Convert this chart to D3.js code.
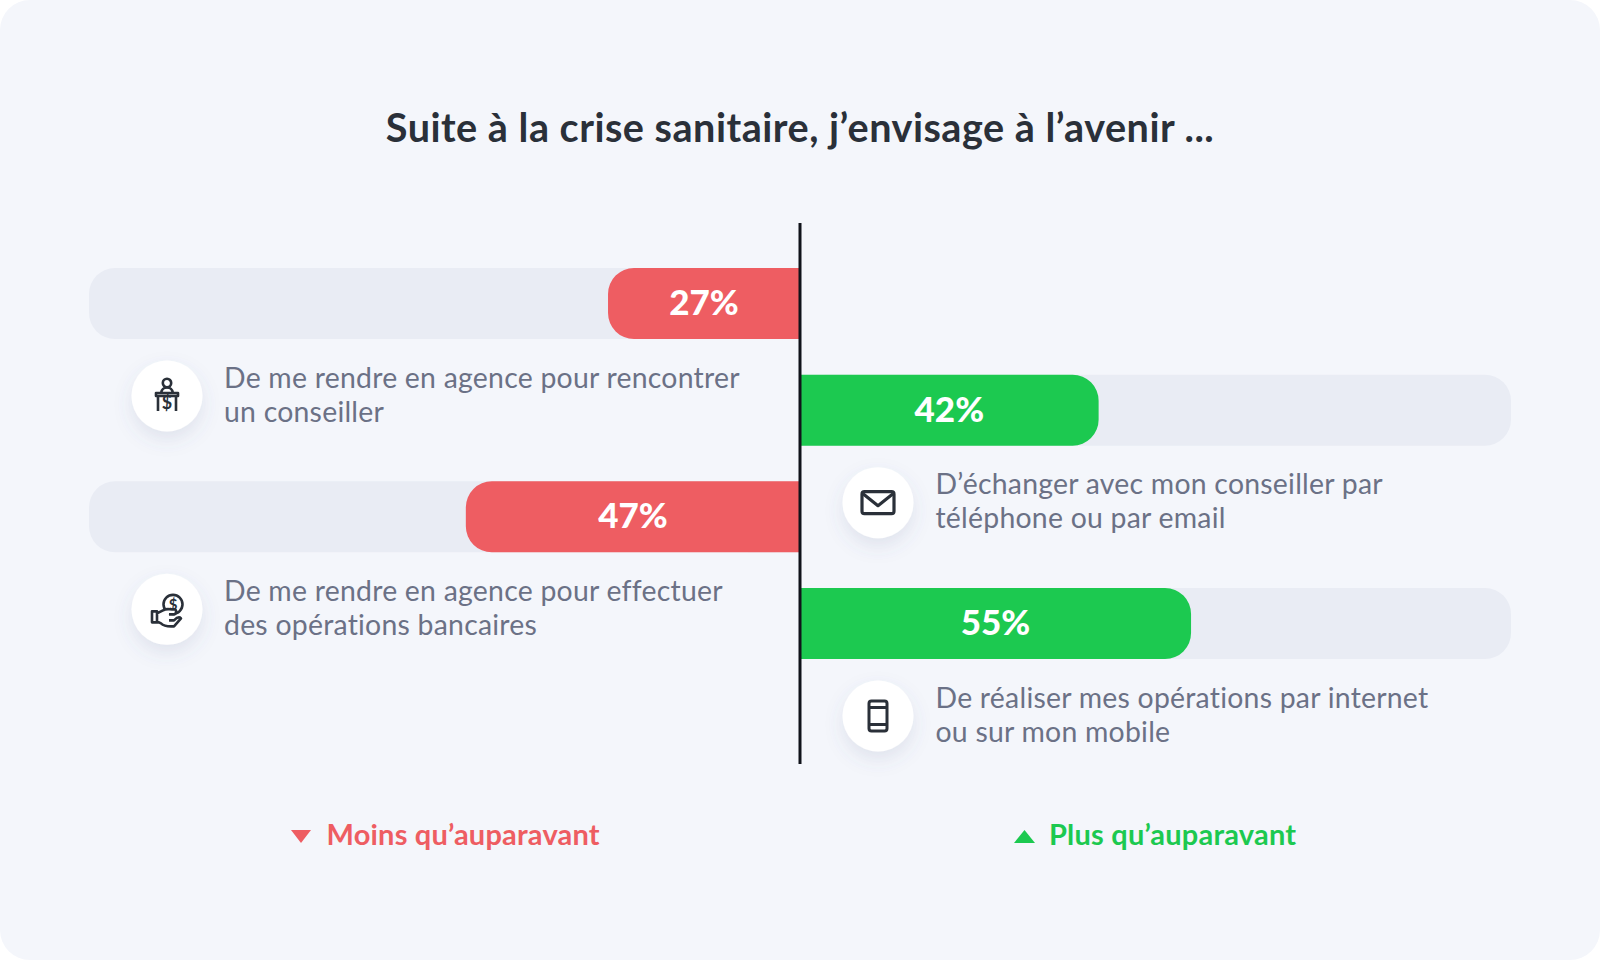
<!DOCTYPE html>
<html lang="fr"><head><meta charset="utf-8">
<script src="https://cdn.jsdelivr.net/npm/d3@7"></script>
<style>html,body{margin:0;padding:0;background:#fff}svg{display:block}text{font-family:Lato,"Open Sans",sans-serif}</style>
</head><body><div id="chart"></div>
<script>
const title = "Suite à la crise sanitaire, j’envisage à l’avenir ...";
const categories = ["agence-conseiller","telephone-email","agence-operations","internet-mobile"];
const values = [27,42,47,55];
const sides = ["moins","plus","moins","plus"];
const labelLines = [
 ["De me rendre en agence pour rencontrer","un conseiller"],
 ["D’échanger avec mon conseiller par","téléphone ou par email"],
 ["De me rendre en agence pour effectuer","des opérations bancaires"],
 ["De réaliser mes opérations par internet","ou sur mon mobile"]];
const icons = ["desk","mail","hand","phone"];
const legendLabels = ["Moins qu’auparavant","Plus qu’auparavant"];

const W=1600,H=960, C={bg:"#f4f6fb",track:"#e9ecf4",red:"#ee5d62",green:"#1cc950",ink:"#2a3039",gray:"#6b7186",axis:"#10131a"};
const svg=d3.select("#chart").append("svg").attr("width",W).attr("height",H).attr("viewBox",[0,0,W,H]);
const defs=svg.append("defs");
const f=defs.append("filter").attr("id","sh").attr("x","-50%").attr("y","-50%").attr("width","200%").attr("height","200%");
f.append("feDropShadow").attr("dx",0).attr("dy",8).attr("stdDeviation",9).attr("flood-color","#5a648c").attr("flood-opacity",0.13);
svg.append("rect").attr("width",W).attr("height",H).attr("rx",30).attr("fill",C.bg);

const x0=800, full=711, barH=71, r=26;
const xLen=d3.scaleLinear().domain([0,100]).range([0,full]);
const y=d3.scalePoint().domain(categories).range([268,588]);
svg.append("text").attr("x",800).attr("y",142).attr("text-anchor","middle").attr("font-size",39.6).attr("letter-spacing",0.5).attr("font-weight",700).attr("fill",C.ink).text(title);

function bar(len,dir){const a=Math.min(r,len);
  return dir<0?`M0,0H${-len+a}A${a},${a} 0 0 0 ${-len},${a}V${barH-a}A${a},${a} 0 0 0 ${-len+a},${barH}H0Z`
              :`M0,0H${len-a}A${a},${a} 0 0 1 ${len},${a}V${barH-a}A${a},${a} 0 0 1 ${len-a},${barH}H0Z`;}
const iconDraw={
 desk(g){g.append("circle").attr("cx",0).attr("cy",-13).attr("r",4.2);
   g.append("path").attr("d","M-6,-3C-5,-8 -3,-8.5 0,-8.5C3,-8.5 5,-8 6,-3M-11,-3H11V0H-11ZM-9,0V15M9,0V15");
   g.append("text").attr("x",0).attr("y",13).attr("text-anchor","middle").attr("font-size",18).attr("font-weight",700).attr("fill",C.ink).attr("stroke","none").text("$");},
 mail(g){g.attr("stroke-width",3.2);g.append("rect").attr("x",-16).attr("y",-11).attr("width",32).attr("height",22).attr("rx",2.5);
   g.append("path").attr("d","M-15,-9L0,3L15,-9");},
 hand(g){g.append("circle").attr("cx",6).attr("cy",-5).attr("r",9.5);
   g.append("text").attr("x",6).attr("y",0.5).attr("text-anchor","middle").attr("font-size",15).attr("font-weight",700).attr("fill",C.ink).attr("stroke","none").text("$");
   g.append("path").attr("fill","#fff").attr("d","M-15,2H-10V13H-15ZM-10,4L-4,1C-1,-1 2,0 5,0H8C10,1 9,5 7,5H2M-10,12L-6,14C-3,17 1,17 4,17H7L14,9C12,7 9,9 7,11H2");},
 phone(g){g.attr("stroke-width",3);g.append("rect").attr("x",-9).attr("y",-15).attr("width",18).attr("height",30).attr("rx",2.5);
   g.append("path").attr("d","M-9,-8.5H9M-9,8.5H9");}
};
const rows=svg.selectAll("g.row").data(categories.map((c,i)=>({c,v:values[i],side:sides[i],lines:labelLines[i],icon:icons[i]}))).join("g").attr("class","row").attr("transform",d=>`translate(${x0},${y(d.c)})`);
rows.append("rect").attr("x",d=>d.side=="moins"?-full:0).attr("width",full).attr("height",barH).attr("rx",r).attr("fill",C.track);
rows.filter(d=>d.side=="plus").append("rect").attr("width",r*2).attr("height",barH).attr("fill",C.track);
rows.filter(d=>d.side=="moins").append("rect").attr("x",-r*2).attr("width",r*2).attr("height",barH).attr("fill",C.track);
rows.append("path").attr("d",d=>bar(xLen(d.v),d.side=="moins"?-1:1)).attr("fill",d=>d.side=="moins"?C.red:C.green);
rows.append("text").attr("x",d=>(d.side=="moins"?-1:1)*xLen(d.v)/2).attr("y",47).attr("text-anchor","middle").attr("font-size",35).attr("font-weight",900).attr("fill","#fff").text(d=>d.v+"%");
const ic=rows.append("g").attr("transform",d=>`translate(${d.side=="moins"?-633:78},${barH+57})`);
ic.append("circle").attr("r",35.5).attr("fill","#fff").attr("filter","url(#sh)");
ic.each(function(d){const g=d3.select(this).append("g").attr("fill","none").attr("stroke",C.ink).attr("stroke-width",2.6).attr("stroke-linejoin","round");iconDraw[d.icon](g);});
rows.each(function(d){const g=d3.select(this);d.lines.forEach((t,i)=>g.append("text").attr("x",d.side=="moins"?-576:135.5).attr("y",barH+48.5+i*34).attr("font-size",28.4).attr("letter-spacing",0.24).attr("fill",C.gray).text(t));});

svg.append("line").attr("x1",x0).attr("x2",x0).attr("y1",223).attr("y2",764).attr("stroke",C.axis).attr("stroke-width",3);

const lg=svg.selectAll("g.lg").data(legendLabels).join("g").attr("class","lg");
lg.append("path").attr("d",(d,i)=>i==0?"M291,830H311L301,843Z":"M1014,843H1035L1024.5,830Z").attr("fill",(d,i)=>i==0?C.red:C.green);
lg.append("text").attr("x",(d,i)=>i==0?326.5:1049).attr("y",845).attr("font-size",29).attr("letter-spacing",0.2).attr("font-weight",700).attr("fill",(d,i)=>i==0?C.red:C.green).text(d=>d);
</script></body></html>
